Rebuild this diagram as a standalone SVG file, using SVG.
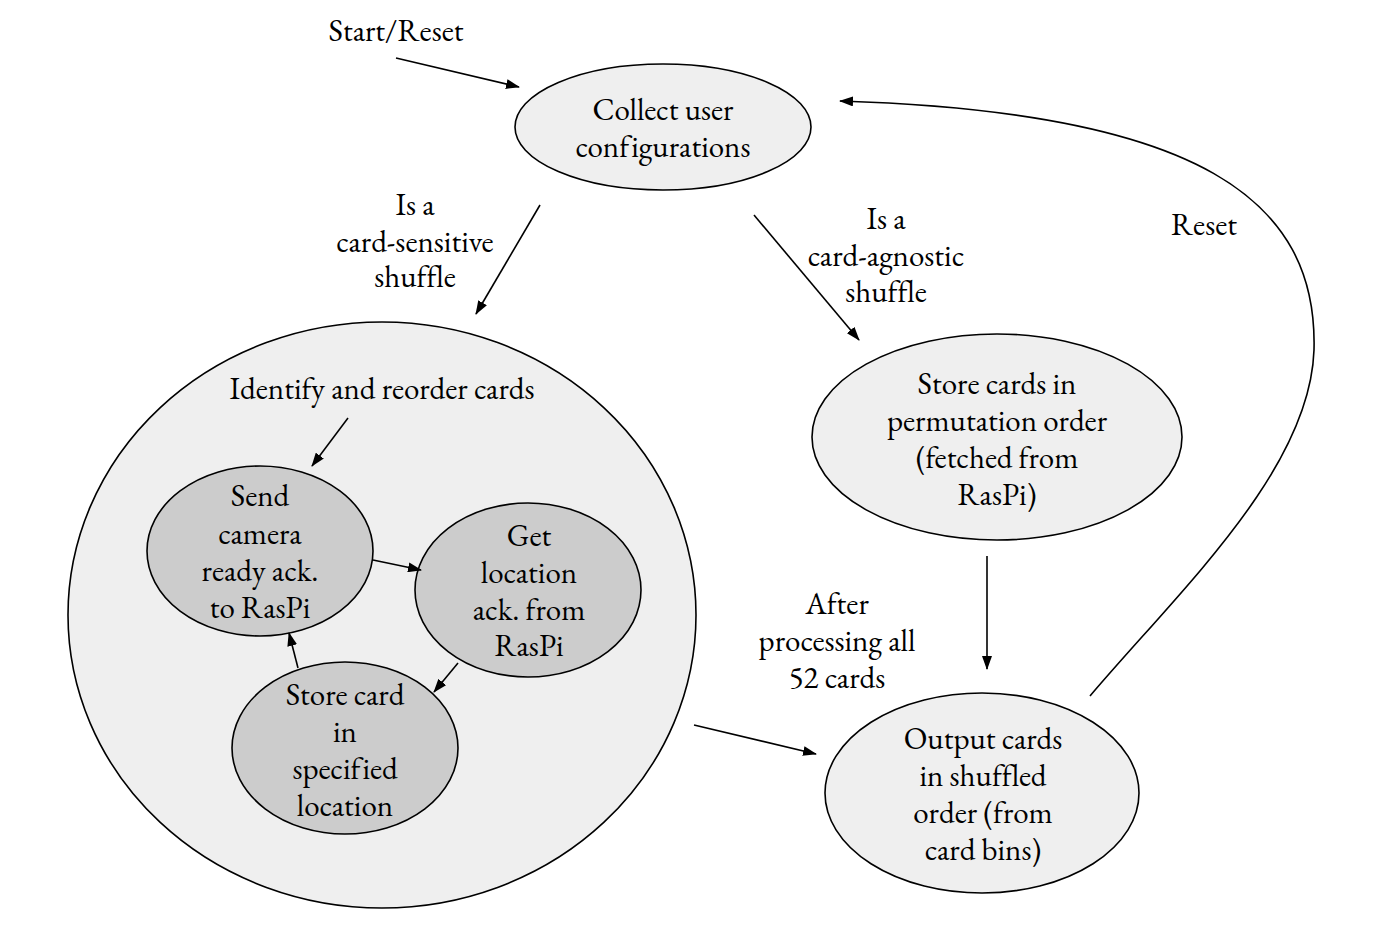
<svg xmlns="http://www.w3.org/2000/svg" width="1386" height="934" viewBox="0 0 1386 934">
<defs>
<marker id="arr" markerWidth="14" markerHeight="10" refX="13" refY="5" orient="auto" markerUnits="userSpaceOnUse">
<path d="M0,0 L14,5 L0,10 z" fill="#000"/>
</marker>
<style>
text{font-family:"EB Garamond","Liberation Serif","Times New Roman",serif;font-size:31px;fill:#000;text-anchor:middle;font-variant-ligatures:none}
.light{fill:#efefef;stroke:#000;stroke-width:1.6}
.dark{fill:#cccccc;stroke:#000;stroke-width:1.6}
.c{fill:none;stroke:#000;stroke-width:1.6}
</style>
</defs>
<rect width="1386" height="934" fill="#fff"/>
<g id="outer">
<ellipse class="light" cx="382" cy="615" rx="314" ry="293"/>
<text x="382" y="399">Identify and reorder cards</text>
</g>
<g id="collect">
<ellipse class="light" cx="663" cy="127" rx="148" ry="63"/>
<text x="663" y="120">Collect user</text>
<text x="663" y="157">configurations</text>
</g>
<g id="send">
<ellipse class="dark" cx="260" cy="551" rx="113" ry="85"/>
<text x="260" y="506">Send</text>
<text x="260" y="544">camera</text>
<text x="260" y="581">ready ack.</text>
<text x="260" y="618">to RasPi</text>
</g>
<g id="get">
<ellipse class="dark" cx="528" cy="590" rx="113" ry="87"/>
<text x="529" y="546">Get</text>
<text x="529" y="583">location</text>
<text x="529" y="620">ack. from</text>
<text x="529" y="656">RasPi</text>
</g>
<g id="store">
<ellipse class="dark" cx="345" cy="748" rx="113" ry="86"/>
<text x="345" y="705">Store card</text>
<text x="345" y="742">in</text>
<text x="345" y="779">specified</text>
<text x="345" y="816">location</text>
</g>
<g id="perm">
<ellipse class="light" cx="997" cy="437" rx="185" ry="103"/>
<text x="997" y="394">Store cards in</text>
<text x="997" y="431">permutation order</text>
<text x="997" y="468">(fetched from</text>
<text x="997" y="505">RasPi)</text>
</g>
<g id="output">
<ellipse class="light" cx="982" cy="793" rx="157" ry="100"/>
<text x="983" y="749">Output cards</text>
<text x="983" y="786">in shuffled</text>
<text x="983" y="823">order (from</text>
<text x="983" y="860">card bins)</text>
</g>
<g id="labels">
<text x="396" y="41">Start/Reset</text>
<text x="415" y="215">Is a</text>
<text x="415" y="252">card-sensitive</text>
<text x="415" y="287">shuffle</text>
<text x="886" y="229">Is a</text>
<text x="886" y="266">card-agnostic</text>
<text x="886" y="302">shuffle</text>
<text x="1204" y="235">Reset</text>
<text x="837" y="614">After</text>
<text x="837" y="651">processing all</text>
<text x="837" y="688">52 cards</text>
</g>
<g id="connectors">
<line class="c" x1="396" y1="58" x2="519" y2="87" marker-end="url(#arr)"/>
<line class="c" x1="540" y1="205" x2="476" y2="314" marker-end="url(#arr)"/>
<line class="c" x1="754" y1="215" x2="859" y2="340" marker-end="url(#arr)"/>
<line class="c" x1="348" y1="418" x2="312" y2="466" marker-end="url(#arr)"/>
<line class="c" x1="373" y1="560" x2="421" y2="570" marker-end="url(#arr)"/>
<line class="c" x1="458" y1="663" x2="434" y2="692" marker-end="url(#arr)"/>
<line class="c" x1="298" y1="668" x2="289" y2="633" marker-end="url(#arr)"/>
<line class="c" x1="694" y1="725" x2="816" y2="754" marker-end="url(#arr)"/>
<line class="c" x1="987" y1="556" x2="987" y2="669" marker-end="url(#arr)"/>
<path class="c" d="M1090,696 C1180,590 1310,470 1314,350 C1318,200 1200,112 840,101" marker-end="url(#arr)"/>
</g>
</svg>
